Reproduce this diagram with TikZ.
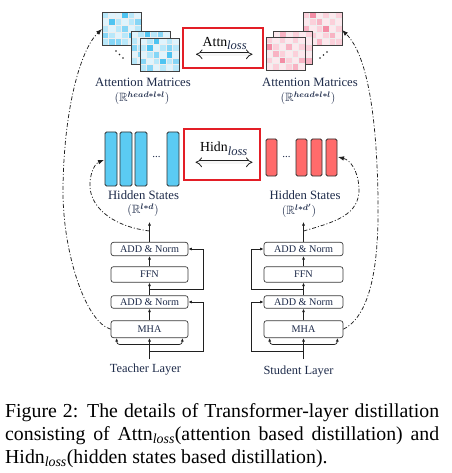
\documentclass[tikz,border=0pt]{standalone}
\usepackage{amssymb}
\usepackage{bm}
\usepackage{fontspec}
\setmainfont{Liberation Serif}
\usetikzlibrary{arrows.meta,calc}
\definecolor{txtc}{HTML}{1E2B4A}
\definecolor{bl0}{HTML}{DFF4FD}
\definecolor{bl1}{HTML}{B8E8FA}
\definecolor{bl2}{HTML}{86D6F6}
\definecolor{bl3}{HTML}{4FC4F1}
\definecolor{pk0}{HTML}{FDE8ED}
\definecolor{pk1}{HTML}{FBD0DA}
\definecolor{pk2}{HTML}{F8B3C3}
\definecolor{pk3}{HTML}{F38DA5}
\definecolor{gridc}{HTML}{EEEEEE}
\definecolor{matb}{HTML}{404040}
\definecolor{barblue}{HTML}{5BCBF3}
\definecolor{barred}{HTML}{FF6B6B}
\definecolor{barline}{HTML}{303030}
\definecolor{lossred}{HTML}{E31E26}
\definecolor{boxc}{HTML}{3A3A3A}
\definecolor{linec}{HTML}{202020}
\newcommand\drawmat[4]{%
  \begin{scope}[shift={(#1,#2)}]
    \foreach \v [count=\i from 0] in {#4} {
      \pgfmathtruncatemacro\mcol{mod(\i,6)}
      \pgfmathtruncatemacro\mrow{div(\i,6)}
      \filldraw[fill=#3\v, draw=gridc, line width=0.5pt] (\mcol*6.5,\mrow*6.6) rectangle ++(6.5,6.6);
    }
    \draw[matb, line width=0.9pt] (0,0) rectangle (39,33);
  \end{scope}}
\tikzset{
  layerbox/.style={draw=boxc, line width=0.7pt, rounded corners=2.5pt, fill=white, text=txtc,
    font=\fontsize{10.2}{12}\selectfont, inner sep=0pt},
  arr/.style={-{Latex[length=3.5pt,width=3pt]}, line width=0.7pt, draw=linec},
  dcurve/.style={line width=0.75pt, draw=linec, dash pattern=on 4pt off 2pt on 1pt off 2pt,
    -{Latex[length=6pt,width=4.5pt]}},
  lbl/.style={inner sep=0pt, text=txtc, font=\fontsize{12.7}{14}\selectfont},
  rlbl/.style={inner sep=0pt, text=txtc, font=\fontsize{12}{13}\selectfont, anchor=base},
  laylbl/.style={inner sep=0pt, text=txtc, font=\fontsize{12.4}{14}\selectfont, anchor=base},
  losslbl/.style={inner sep=0pt, text=black, font=\fontsize{13.8}{15}\selectfont, anchor=base},
  lossbox/.style={draw=lossred, line width=2.3pt, inner sep=0pt},
  dbl/.style={double=white!92!gray, double distance=2.6pt, line width=0.8pt, draw=linec, {Implies}-{Implies}},
  bbar/.style={draw=barline, fill=barblue, line width=0.8pt, rounded corners=1.5pt},
  rbar/.style={draw=barline, fill=barred, line width=0.8pt, rounded corners=1.5pt},
  capline/.style={anchor=base west, inner sep=0pt, font=\fontsize{19.8}{23}\selectfont, text=black},
}
\newcommand\losssub{\raisebox{-3pt}{\fontsize{12.5}{13}\selectfont\color{txtc}\itshape loss}}
\begin{document}
\begin{tikzpicture}[x=1pt,y=-1pt]
\useasboundingbox (0,0) rectangle (451,473);
\fill[white] (0,0) rectangle (451,473);

% ---- attention matrices (teacher)
\drawmat{102}{12}{bl}{1,0,0,3,1,0, 0,3,1,0,1,2, 1,0,1,2,0,1, 2,1,0,1,3,0, 1,2,2,1,0,2}
\drawmat{131}{31}{bl}{0,1,3,1,2,0, 1,0,1,3,0,1, 2,1,0,1,1,0, 0,2,1,0,3,1, 1,0,2,1,0,2}
\drawmat{140}{38}{bl}{0,1,3,0,1,0, 1,3,0,1,2,1, 0,1,2,0,3,0, 2,0,1,3,1,2, 1,2,0,1,0,1}
\foreach \p in {(116,51),(119.5,54.5),(123,58)} \fill[linec] \p circle (0.9);

% ---- attention matrices (student)
\drawmat{303}{12}{pk}{1,3,0,1,0,1, 0,1,2,0,1,0, 2,0,1,3,0,1, 0,1,0,1,2,0, 1,0,2,0,1,1}
\drawmat{273}{31}{pk}{0,2,0,1,0,1, 1,0,1,0,2,0, 0,1,0,2,0,1, 2,0,1,0,1,0, 0,1,0,1,0,2}
\drawmat{266}{37}{pk}{1,0,1,0,1,0, 3,1,0,2,0,1, 0,2,1,0,1,0, 1,0,3,1,0,2, 0,1,0,1,2,0}
\foreach \p in {(320,58),(323.5,55),(327,52)} \fill[linec] \p circle (0.9);

% ---- labels for attention matrices
\node[lbl, anchor=base] (tattl) at (143,86.5) {Attention Matrices};
\node[rlbl] (tattr) at (142,101.5) {$(\mathbb{R}^{\bm{head*l*l}})$};
\node[lbl, anchor=base] (sattl) at (310,86.5) {Attention Matrices};
\node[rlbl] (sattr) at (308,101.5) {$(\mathbb{R}^{\bm{head*l*l}})$};

% ---- Attn loss
\node[lossbox, minimum width=79.6pt, minimum height=39.6pt] (attnbox) at (223,48) {};
\node[losslbl] (attnlbl) at (224.7,46.7) {Attn\losssub};
\coordinate (a1) at (196,54.3);
\coordinate (a2) at (252.5,54.3);
\draw[dbl] (a1) -- (a2);

% ---- hidden states
\foreach \x in {105,120,135,167} \draw[bbar] (\x,132) rectangle ++(12,54);
\foreach \x in {266,296,311,326} \draw[rbar] (\x,139) rectangle ++(11,37);
\node[inner sep=0pt, text=txtc, font=\fontsize{11}{12}\selectfont] (tdots) at (156.5,157) {...};
\node[inner sep=0pt, text=txtc, font=\fontsize{11}{12}\selectfont] (sdots) at (286.5,157) {...};

\node[lbl, anchor=base] (thl) at (143.5,199) {Hidden States};
\node[rlbl] (thr) at (143,213.5) {$(\mathbb{R}^{\bm{l*d}})$};
\node[lbl, anchor=base] (shl) at (305,199) {Hidden States};
\node[rlbl] (shr) at (299,214.5) {$(\mathbb{R}^{\bm{l*d'}})$};

% ---- Hidn loss
\node[lossbox, minimum width=75.6pt, minimum height=50.6pt] (hidnbox) at (222,154.5) {};
\node[losslbl] (hidnlbl) at (223.7,152) {Hidn\losssub};
\coordinate (h1) at (195.5,162.3);
\coordinate (h2) at (252.5,162.3);
\draw[dbl] (h1) -- (h2);

% ---- teacher layer
\node[layerbox, minimum width=77pt, minimum height=13.4pt] (tadd1) at (149.5,249) {ADD \& Norm};
\node[layerbox, minimum width=77pt, minimum height=15.6pt] (tffn) at (149.5,274.5) {FFN};
\node[layerbox, minimum width=77pt, minimum height=12.6pt] (tadd2) at (149.5,302) {ADD \& Norm};
\node[layerbox, minimum width=77pt, minimum height=17pt] (tmha) at (149.5,329.2) {MHA};
\coordinate (tout) at (149.5,222);
\coordinate (tin) at (149.5,359);
\coordinate (tr0) at (149.5,344.5);
\coordinate (tr1) at (149.5,351);
\coordinate (tr2) at (149.5,289);
\coordinate (tjoin) at (149.5,231);
\draw[arr] (tadd1.north) -- (tout);
\draw[arr] (tffn.north) -- (tadd1.south);
\draw[arr] (tadd2.north) -- (tffn.south);
\draw[arr] (tmha.north) -- (tadd2.south);
\draw[arr] (tin) -- (tmha.south);
\draw[arr] (tr1) -- ++(53.5,0) |- (tadd2.east);
\draw[arr] (tr2) -- ++(53.5,0) |- (tadd1.east);
\draw[arr, rounded corners=3pt] (tr0) -| ($(tmha.south west)+(6,0)$);
\draw[arr, rounded corners=3pt] (tr0) -| ($(tmha.south east)+(-6,0)$);
\node[laylbl] (tlab) at (145.5,372.5) {Teacher Layer};

% ---- student layer
\node[layerbox, minimum width=79pt, minimum height=13.4pt] (sadd1) at (303.5,249) {ADD \& Norm};
\node[layerbox, minimum width=79pt, minimum height=15.6pt] (sffn) at (303.5,274.5) {FFN};
\node[layerbox, minimum width=79pt, minimum height=12.6pt] (sadd2) at (303.5,302) {ADD \& Norm};
\node[layerbox, minimum width=79pt, minimum height=17pt] (smha) at (303.5,329.2) {MHA};
\coordinate (sout) at (303.5,222);
\coordinate (sin) at (303.5,359);
\coordinate (sr0) at (303.5,344.5);
\coordinate (sr1) at (303.5,351);
\coordinate (sr2) at (303.5,289);
\coordinate (sjoin) at (303.5,231);
\draw[arr] (sadd1.north) -- (sout);
\draw[arr] (sffn.north) -- (sadd1.south);
\draw[arr] (sadd2.north) -- (sffn.south);
\draw[arr] (smha.north) -- (sadd2.south);
\draw[arr] (sin) -- (smha.south);
\draw[arr] (sr1) -- ++(-52.5,0) |- (sadd2.west);
\draw[arr] (sr2) -- ++(-52.5,0) |- (sadd1.west);
\draw[arr, rounded corners=3pt] (sr0) -| ($(smha.south west)+(6,0)$);
\draw[arr, rounded corners=3pt] (sr0) -| ($(smha.south east)+(-6,0)$);
\node[laylbl] (slab) at (298.5,374) {Student Layer};

% ---- dash-dot curves
\coordinate (m1tip) at (102,29);
\coordinate (p3tip) at (342,30);
\coordinate (htip) at (104,160);
\coordinate (shtip) at (338,157);
\draw[dcurve] (tmha.west) .. controls (85,322) and (62,250) .. (63,187) .. controls (64,110) and (80,50) .. (m1tip);
\draw[dcurve] (smha.east) .. controls (372,315) and (379,260) .. (378,200) .. controls (377,120) and (368,55) .. (p3tip);
\draw[dcurve] (tjoin) .. controls (110,226) and (88,205) .. (90,182) .. controls (91,170) and (96,163) .. (htip);
\draw[dcurve] (sjoin) .. controls (335,222) and (360,215) .. (359,188) .. controls (358,170) and (350,160) .. (shtip);

% ---- caption
\node[capline] (cap1) at (5,417) {\makebox[434pt][s]{Figure 2: The details of Transformer-layer distillation}};
\node[capline] (cap2) at (5,440) {\makebox[434pt][s]{consisting of Attn\textsubscript{\textit{loss}}(attention based distillation) and}};
\node[capline] (cap3) at (5,463) {Hidn\textsubscript{\textit{loss}}(hidden states based distillation).};
\end{tikzpicture}
\end{document}
